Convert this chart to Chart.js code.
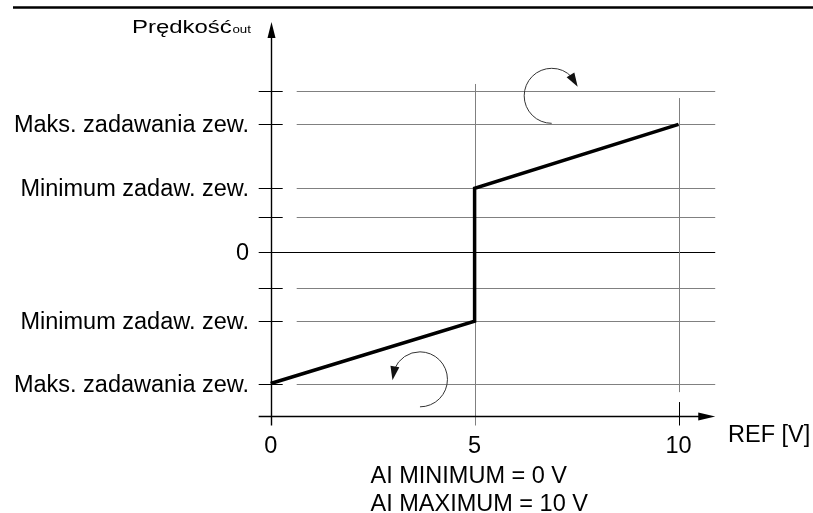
<!DOCTYPE html>
<html>
<head>
<meta charset="utf-8">
<script src="https://cdn.jsdelivr.net/npm/chart.js@4.4.1/dist/chart.umd.min.js"></script>
<style>
  html, body { margin: 0; padding: 0; background: #fff; }
  #wrap { width: 813px; height: 513px; position: relative; }
</style>
</head>
<body>
<div id="wrap"><canvas id="speedChart"></canvas></div>
<script>
// Characteristic: REF [V] -> speed
const refVolts = [0, 5, 5, 10];
const speedOut = [-4.1, -2.15, 2, 4];

// Horizontal reference levels on the speed axis
const levelValues = [5.05, 4, 2, 1.1, 0, -1.1, -2.15, -4.1];
const levelLabels = ['', 'Maks. zadawania zew.', 'Minimum zadaw. zew.', '', '0', '', 'Minimum zadaw. zew.', 'Maks. zadawania zew.'];

// REF axis ticks
const xTickValues = [0, 5, 10];
const xTickLabels = ['0', '5', '10'];

const axisBottom = -5.1;
const axisTop = 7.2;

const FONT = '"Liberation Sans", Arial, sans-serif';
const GRID = '#808080';

function seg(ctx, x1, y1, x2, y2) {
  ctx.beginPath();
  ctx.moveTo(x1, y1);
  ctx.lineTo(x2, y2);
  ctx.stroke();
}

function arrowHead(ctx, tx, ty, dx, dy, len, half) {
  const l = Math.hypot(dx, dy);
  const ux = dx / l, uy = dy / l;
  const bx = tx - ux * len, by = ty - uy * len;
  ctx.beginPath();
  ctx.moveTo(tx, ty);
  ctx.lineTo(bx - uy * half, by + ux * half);
  ctx.lineTo(bx + uy * half, by - ux * half);
  ctx.closePath();
  ctx.fill();
}

// Rotation arrow (arc + head), angles in degrees, canvas orientation
function rotArrow(ctx, cx, cy, r, from, to, ccw) {
  const rad = d => d * Math.PI / 180;
  const back = ccw ? 24 : -24;
  const endArc = to + back;
  ctx.beginPath();
  ctx.arc(cx, cy, r, rad(from), rad(endArc), ccw);
  ctx.stroke();
  const tx = cx + r * Math.cos(rad(to)), ty = cy + r * Math.sin(rad(to));
  const sx = cx + r * Math.cos(rad(endArc)), sy = cy + r * Math.sin(rad(endArc));
  arrowHead(ctx, tx, ty, tx - sx, ty - sy, 14, 4.5);
}

const diagramPlugin = {
  id: 'diagram',
  beforeDatasetsDraw(chart) {
    const { ctx, scales: { x, y } } = chart;
    const x0 = x.getPixelForValue(0);
    const yAxisPx = Math.round(y.getPixelForValue(axisBottom)) + 0.5;
    const gridLeft = x0 + 26;
    const gridRight = x.getPixelForValue(10.9);
    ctx.save();
    ctx.lineWidth = 1;

    // top rule
    ctx.strokeStyle = '#000';
    ctx.lineWidth = 2.5;
    seg(ctx, 13, 7.5, 813, 7.5);
    ctx.lineWidth = 1;

    // horizontal levels with ticks
    levelValues.forEach(v => {
      const py = Math.round(y.getPixelForValue(v)) + 0.5;
      ctx.strokeStyle = '#000';
      if (v === 0) {
        seg(ctx, x0 - 12, py, gridRight, py);
      } else {
        seg(ctx, x0 - 12, py, x0 + 12, py);
        ctx.strokeStyle = GRID;
        seg(ctx, gridLeft, py, gridRight, py);
      }
    });

    // vertical guides at 5 and 10
    const x5 = Math.round(x.getPixelForValue(5)) + 0.5;
    const x10 = Math.round(x.getPixelForValue(10)) + 0.5;
    ctx.strokeStyle = GRID;
    seg(ctx, x5, y.getPixelForValue(5.26), x5, yAxisPx + 9);
    seg(ctx, x10, y.getPixelForValue(4.82), x10, y.getPixelForValue(-4.37));
    ctx.strokeStyle = '#000';
    seg(ctx, x10, y.getPixelForValue(-4.68), x10, yAxisPx + 9);

    // axes
    const xa = Math.round(x0) + 0.5;
    const yTop = y.getPixelForValue(axisTop);
    const xEnd = x.getPixelForValue(10.9);
    ctx.lineWidth = 1.4;
    seg(ctx, xa, yAxisPx + 9, xa, yTop + 10);
    seg(ctx, x0 - 12, yAxisPx, xEnd - 10, yAxisPx);
    ctx.fillStyle = '#000';
    arrowHead(ctx, xa, yTop, 0, -1, 16, 4);
    arrowHead(ctx, xEnd, yAxisPx, 1, 0, 17, 4);

    // rotation arrows
    ctx.lineWidth = 1;
    ctx.strokeStyle = '#333';
    ctx.fillStyle = '#111';
    const r = 27.5;
    rotArrow(ctx, x.getPixelForValue(6.89), y.getPixelForValue(4.89), r, 90, 341, false);
    rotArrow(ctx, x.getPixelForValue(3.66), y.getPixelForValue(-3.97), r, 90, -182, true);
    ctx.restore();
  },
  afterDraw(chart) {
    const { ctx, scales: { x, y } } = chart;
    ctx.save();
    ctx.fillStyle = '#000';
    ctx.font = '23.5px ' + FONT;

    // speed level labels
    ctx.textAlign = 'right';
    ctx.textBaseline = 'alphabetic';
    levelValues.forEach((v, i) => {
      if (!levelLabels[i]) return;
      ctx.fillText(levelLabels[i], 249, y.getPixelForValue(v) + 8);
    });

    // REF ticks
    ctx.textAlign = 'center';
    xTickValues.forEach((v, i) => {
      ctx.fillText(xTickLabels[i], x.getPixelForValue(v), 453);
    });

    ctx.textAlign = 'left';
    ctx.fillText('REF [V]', 728, 442);
    ctx.fillText('AI MINIMUM = 0 V', 370.5, 483);
    ctx.fillText('AI MAXIMUM = 10 V', 370.5, 511);

    // axis title, stretched like the original
    ctx.translate(132, 33);
    ctx.scale(1.33, 1);
    ctx.font = '18px ' + FONT;
    ctx.fillText('Prędkość', 0, 0);
    const w = ctx.measureText('Prędkość').width;
    ctx.font = '10px ' + FONT;
    ctx.fillText('out', w + 0.5, 0);
    ctx.restore();
  }
};

new Chart(document.getElementById('speedChart'), {
  type: 'line',
  data: {
    datasets: [{
      data: refVolts.map((v, i) => ({ x: v, y: speedOut[i] })),
      borderColor: '#000',
      borderWidth: 3.5,
      pointRadius: 0,
      tension: 0,
      fill: false,
      borderJoinStyle: 'miter'
    }]
  },
  options: {
    responsive: true,
    maintainAspectRatio: false,
    animation: false,
    layout: { padding: { left: 250.3, right: 93.7, top: 12.3, bottom: 84.7 } },
    scales: {
      x: { type: 'linear', min: -0.5, max: 11, display: false },
      y: { type: 'linear', min: -5.5, max: 7.5, display: false }
    },
    plugins: { legend: { display: false }, tooltip: { enabled: false } }
  },
  plugins: [diagramPlugin]
});
</script>
</body>
</html>
